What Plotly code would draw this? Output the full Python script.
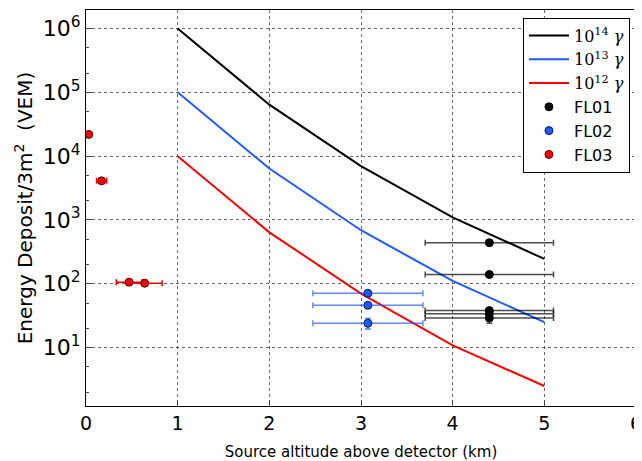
import plotly.graph_objects as go

# Simulation curves
alt = [1, 2, 3, 4, 5]
e14 = [1.0e6, 6.4e4, 7.0e3, 1.1e3, 245]
e13 = [1.0e5, 6.4e3, 690, 111, 25]
e12 = [1.0e4, 640, 70, 10.8, 2.5]

# FL01
fl01_x = [4.4, 4.4, 4.4, 4.4, 4.4]
fl01_y = [440, 140, 38, 34, 29]
fl01_xerr = [0.7, 0.7, 0.7, 0.7, 0.7]
fl01_yerr = [0, 0, 3, 3, 5]

# FL02
fl02_x = [3.075, 3.075, 3.075]
fl02_y = [71, 46, 24]
fl02_xerr = [0.6, 0.6, 0.6]
fl02_yerr = [4, 3, 4.5]

# FL03
fl03_x = [0.03, 0.17, 0.47, 0.64]
fl03_y = [21900, 4100, 106, 102]
fl03_xerr = [0, 0.055, 0.14, 0.19]
fl03_yerr = [0, 0, 0, 0]

ytick_vals = [1e1, 1e2, 1e3, 1e4, 1e5, 1e6]
ytick_text = ["10<sup>1</sup>", "10<sup>2</sup>", "10<sup>3</sup>", "10<sup>4</sup>", "10<sup>5</sup>", "10<sup>6</sup>"]
xtick_vals = [0, 1, 2, 3, 4, 5, 6]

BLUE = "#1e5aff"
RED = "#ff0000"

def serif_label(exp):
    return ("<span style='font-family:DejaVu Serif'>10<sup>%d</sup> <i>γ</i></span>" % exp)

fig = go.Figure()
fig.add_trace(go.Scatter(x=alt, y=e14, mode="lines", line=dict(color="black", width=2),
                         name=serif_label(14)))
fig.add_trace(go.Scatter(x=alt, y=e13, mode="lines", line=dict(color=BLUE, width=2),
                         name=serif_label(13)))
fig.add_trace(go.Scatter(x=alt, y=e12, mode="lines", line=dict(color=RED, width=2),
                         name=serif_label(12)))

fig.add_trace(go.Scatter(x=fl01_x, y=fl01_y, mode="markers", name="FL01",
                         marker=dict(color="black", size=8, line=dict(color="black", width=1)),
                         error_x=dict(type="data", array=fl01_xerr, color="rgba(0,0,0,0.7)", thickness=1.5, width=3),
                         error_y=dict(type="data", array=fl01_yerr, color="rgba(0,0,0,0.7)", thickness=1.5, width=3)))
fig.add_trace(go.Scatter(x=fl02_x, y=fl02_y, mode="markers", name="FL02",
                         marker=dict(color=BLUE, size=8, line=dict(color="#001a66", width=1)),
                         error_x=dict(type="data", array=fl02_xerr, color="rgba(30,90,255,0.7)", thickness=1.5, width=3),
                         error_y=dict(type="data", array=fl02_yerr, color="rgba(30,90,255,0.8)", thickness=1.5, width=3)))
fig.add_trace(go.Scatter(x=fl03_x, y=fl03_y, mode="markers", name="FL03",
                         marker=dict(color=RED, size=8, line=dict(color="#550000", width=1)),
                         error_x=dict(type="data", array=fl03_xerr, color=RED, thickness=1.5, width=3),
                         error_y=dict(type="data", array=fl03_yerr, color=RED, thickness=1.5, width=3)))

# The page body has an 8px margin, so the figure is sized 8px smaller
fig.update_layout(
    width=634, height=453,
    margin=dict(l=78, r=6, t=2, b=55, autoexpand=False),
    paper_bgcolor="white", plot_bgcolor="white",
    font=dict(family="DejaVu Sans", color="black"),
    showlegend=True,
    legend=dict(x=0.989, y=0.981, xanchor="right", yanchor="top",
                bgcolor="white", bordercolor="black", borderwidth=1,
                font=dict(size=16, family="DejaVu Sans"), tracegroupgap=2,
                itemwidth=40),
)
fig.update_xaxes(range=[0, 6], tickvals=xtick_vals, ticks="inside", ticklen=6,
                 tickfont=dict(size=19), showline=True, linecolor="black", mirror=True,
                 ticklabeloverflow="allow",
                 showgrid=True, gridcolor="rgba(0,0,0,0.6)", griddash="dot", zeroline=False,
                 title=dict(text="Source altitude above detector (km)", font=dict(size=15), standoff=14))
fig.update_yaxes(type="log", range=[0.085, 6.29], tickvals=ytick_vals, ticktext=ytick_text,
                 ticks="inside", ticklen=6, tickfont=dict(size=22), showline=True, linecolor="black",
                 mirror=True, showgrid=True, gridcolor="rgba(0,0,0,0.6)", griddash="dot",
                 minor=dict(ticks="inside", ticklen=3, showgrid=False),
                 title=dict(text="Energy Deposit/3m<sup>2</sup>  (VEM)", font=dict(size=20), standoff=4))

fig.write_html("out.html")
